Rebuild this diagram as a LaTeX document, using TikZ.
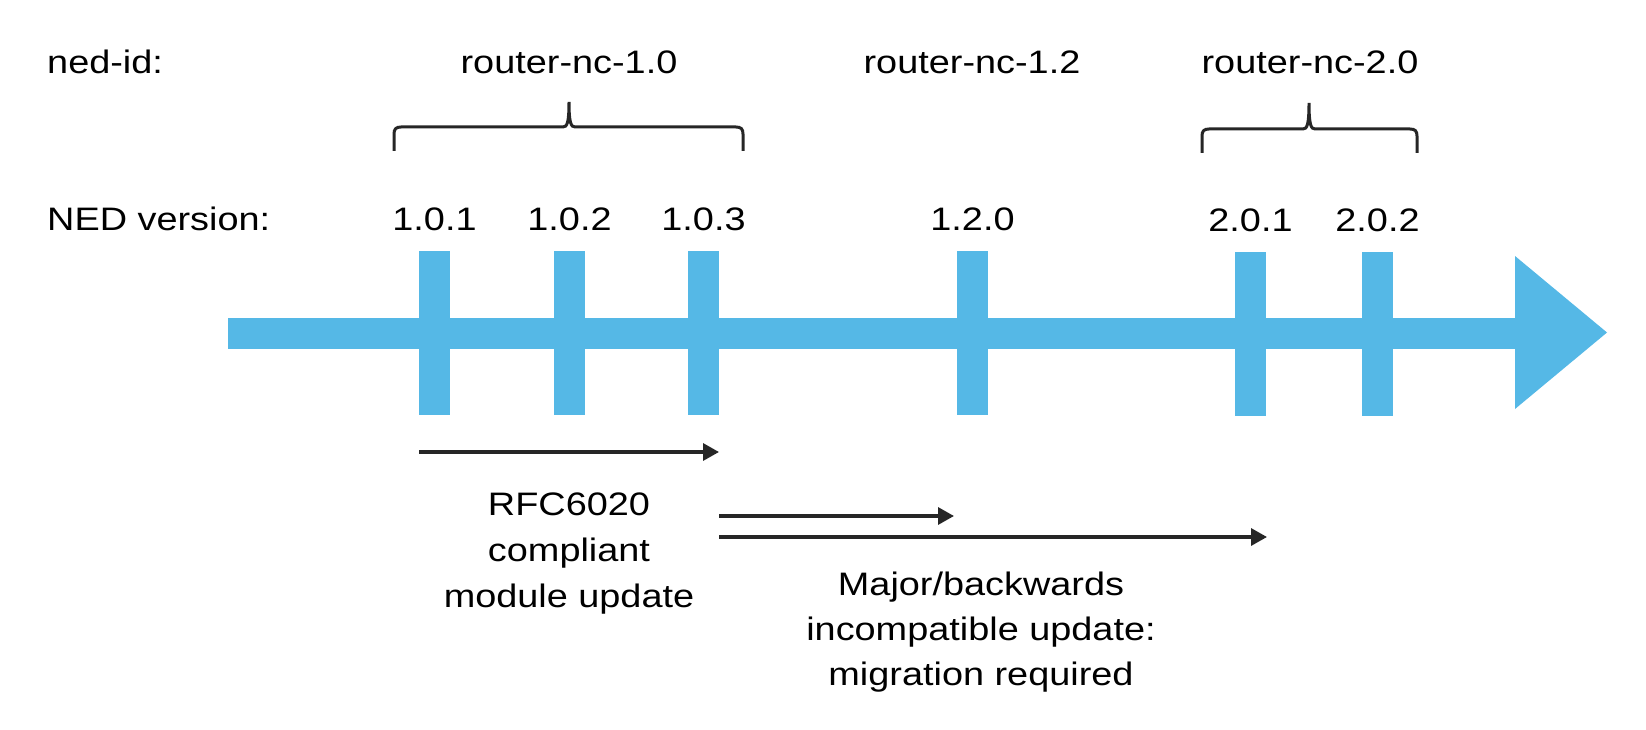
\documentclass[tikz,border=0pt]{standalone}
\usepackage{fontspec}
\setmainfont[FakeStretch=1.165]{Liberation Sans}
\usetikzlibrary{arrows.meta}
\definecolor{tlblue}{HTML}{55B8E6}
\definecolor{ink}{HTML}{262626}
\tikzset{
  lbl/.style={inner sep=0pt, anchor=base, text=black, font=\fontsize{32.5pt}{46pt}\selectfont},
  mlbl/.style={lbl, align=center},
  tickbar/.style={fill=tlblue, draw=none, inner sep=0pt, minimum width=31pt, minimum height=164pt},
  conn/.style={draw=ink, line width=3.3pt, -{Triangle[length=16pt,width=17pt]}},
  brc/.style={draw=ink, line width=3pt}
}
\begin{document}
\begin{tikzpicture}[x=1pt,y=-1pt]
\useasboundingbox (0,0) rectangle (1646,730);
% row labels
\node[lbl, anchor=base west] (nedid) at (47,74) {ned-id:};
\node[lbl, anchor=base west] (nedver) at (47,230) {NED version:};
% ned-id names
\node[lbl] (id10) at (569,74) {router-nc-1.0};
\node[lbl] (id12) at (972,74) {router-nc-1.2};
\node[lbl] (id20) at (1310,74) {router-nc-2.0};
% braces
\draw[brc] (394,151) -- (394,134) .. controls (394,129) and (396,127) .. (401,127) -- (563,127)
  .. controls (567,127) and (569,123) .. (569,102)
  .. controls (569,123) and (571,127) .. (575,127) -- (736,127)
  .. controls (741,127) and (743,129) .. (743,134) -- (743,151);
\draw[brc] (1202,153) -- (1202,136) .. controls (1202,131) and (1204,129) .. (1209,129) -- (1303,129)
  .. controls (1307,129) and (1309,125) .. (1309,103)
  .. controls (1309,125) and (1311,129) .. (1315,129) -- (1410,129)
  .. controls (1415,129) and (1417,131) .. (1417,136) -- (1417,153);
% timeline shaft and head
\fill[tlblue] (228,317.5) rectangle (1516,348.5);
\fill[tlblue] (1515,256) -- (1607,332.5) -- (1515,409) -- cycle;
% ticks
\node[tickbar] (t1) at (434.5,333) {};
\node[tickbar] (t2) at (569.5,333) {};
\node[tickbar] (t3) at (703.5,333) {};
\node[tickbar] (t4) at (972.5,333) {};
\node[tickbar] (t5) at (1250.5,334) {};
\node[tickbar] (t6) at (1377.5,334) {};
% versions
\node[lbl] (v1) at (434.5,230) {1.0.1};
\node[lbl] (v2) at (569.5,230) {1.0.2};
\node[lbl] (v3) at (703.5,230) {1.0.3};
\node[lbl] (v4) at (972.5,230) {1.2.0};
\node[lbl] (v5) at (1250.5,231) {2.0.1};
\node[lbl] (v6) at (1377.5,231) {2.0.2};
% update arrows
\coordinate (a1s) at (419,452);
\coordinate (a1e) at (719,452);
\coordinate (a2s) at (719,516);
\coordinate (a2e) at (954,516);
\coordinate (a3s) at (719,537);
\coordinate (a3e) at (1267,537);
\draw[conn] (a1s) -- (a1e);
\draw[conn] (a2s) -- (a2e);
\draw[conn] (a3s) -- (a3e);
% descriptions (base anchor = last line baseline)
\node[mlbl] (rfc) at (569,607) {RFC6020\\compliant\\module update};
\node[mlbl, font=\fontsize{32.5pt}{45pt}\selectfont] (major) at (981,685) {Major/backwards\\incompatible update:\\migration required};
\end{tikzpicture}
\end{document}
